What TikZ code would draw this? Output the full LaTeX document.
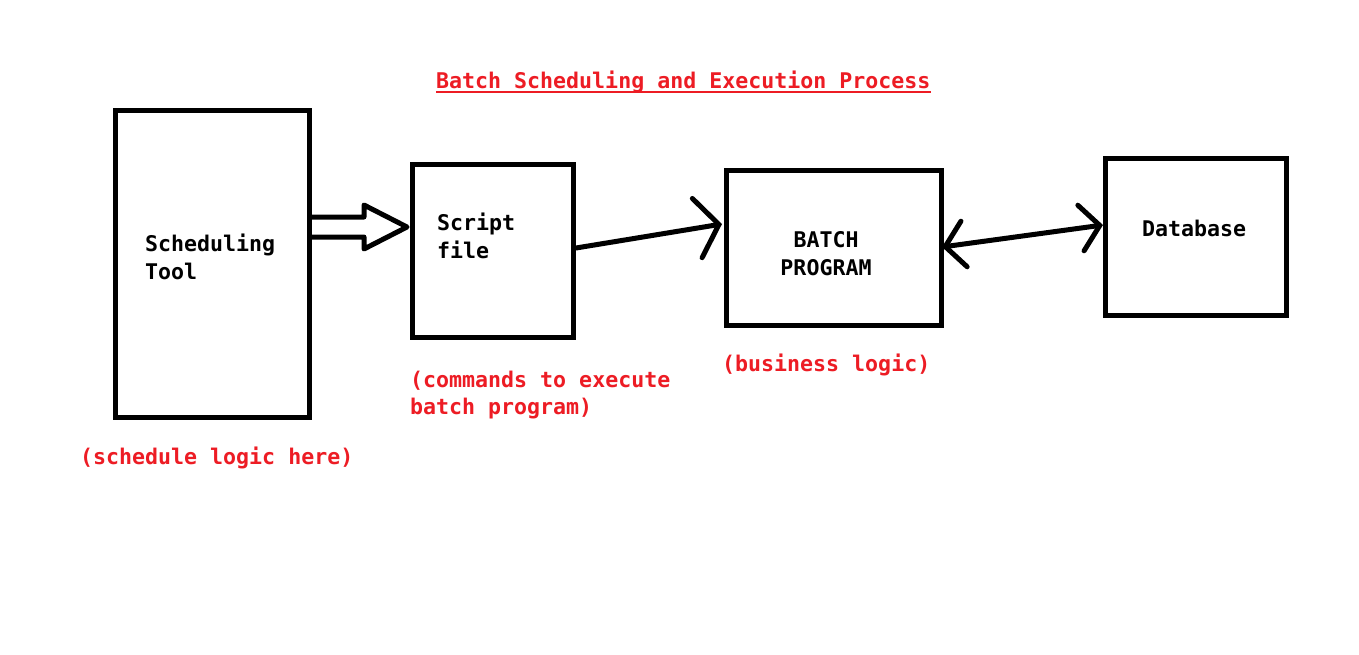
\documentclass[tikz,border=0pt]{standalone}
\usepackage{fontspec}
\newfontfamily\monofam{DejaVu Sans Mono}
\usetikzlibrary{arrows.meta,calc}
\definecolor{pred}{RGB}{237,28,36}
\tikzset{
  boxnode/.style={draw=black, line width=5pt, minimum width=#1, inner sep=0pt},
  txt/.style={anchor=base west, inner sep=0pt, font=\monofam\bfseries\fontsize{21.6}{28}\selectfont, text=black},
  rtxt/.style={txt, text=pred},
  conn/.style={line width=5pt, line cap=round, line join=round},
  barbA/.style={-{Straight Barb[length=22pt, width=60pt, line width=5pt, line cap=round]}},
  barbB/.style={{Straight Barb[length=19pt, width=46pt, line width=5pt, line cap=round]}-{Straight Barb[length=19pt, width=46pt, line width=5pt, line cap=round]}}
}
\begin{document}
\begin{tikzpicture}[x=1pt, y=-1pt]
\useasboundingbox (0,0) rectangle (1359,654);
\fill[white] (0,0) rectangle (1359,654);
% boxes
\node[boxnode=194pt, minimum height=307pt] (sched) at (212.5,264) {};
\node[boxnode=161pt, minimum height=173pt] (script) at (493,251) {};
\node[boxnode=215pt, minimum height=155pt] (batch) at (834,248) {};
\node[boxnode=181pt, minimum height=157pt] (db) at (1196,237) {};
% texts in boxes
\node[txt] (t1a) at (145,251) {Scheduling};
\node[txt] (t1b) at (145,279) {Tool};
\node[txt] (t2a) at (437,230) {Script};
\node[txt] (t2b) at (437,258) {file};
\node[txt, anchor=base] (t3a) at (826,247) {BATCH};
\node[txt, anchor=base] (t3b) at (826,275) {PROGRAM};
\node[txt] (t4) at (1142,236) {Database};
% red labels
\node[rtxt] (title) at (436,88) {Batch Scheduling and Execution Process};
\draw[pred, line width=2pt] ([yshift=-4pt]title.base west) -- ([yshift=-4pt]title.base east);
\node[rtxt] (l1) at (80,464) {(schedule logic here)};
\node[rtxt] (l2a) at (410,387) {(commands to execute};
\node[rtxt] (l2b) at (410,414) {batch program)};
\node[rtxt] (l3) at (722,371) {(business logic)};
% hollow block arrow
\coordinate (ha) at ([yshift=37pt]sched.east);
\coordinate (hb) at ([yshift=24pt]script.west);
\draw[conn, line cap=butt, miter limit=10]
  ($(ha)+(0,-10)$) -- ($(hb)+(-46,-10)$) -- ($(hb)+(-46,-22)$) -- ($(hb)+(-3,0)$)
  -- ($(hb)+(-46,22)$) -- ($(hb)+(-46,10)$) -- ($(ha)+(0,10)$);
% connectors
\draw[conn, barbA] ([yshift=3pt]script.east) -- ([yshift=24pt, xshift=-2pt]batch.west);
\draw[conn, barbB] ([yshift=1pt, xshift=-2pt]batch.east) -- ([yshift=12pt]db.west);
\end{tikzpicture}
\end{document}
